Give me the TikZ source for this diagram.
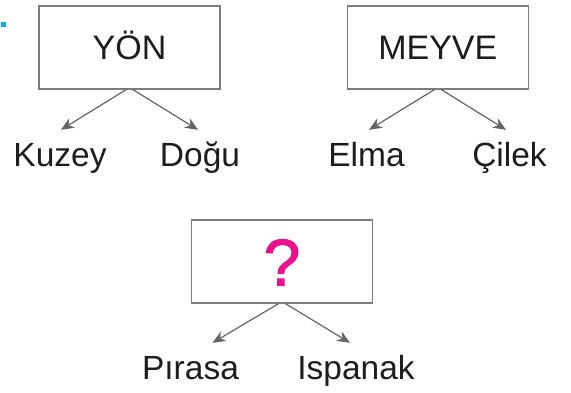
\documentclass[tikz,border=0pt]{standalone}
\usepackage{fontspec}
\setmainfont{Liberation Sans}
\newfontfamily\questfont[FakeBold=1.6]{Liberation Sans}
\usepackage{tikz}
\usetikzlibrary{positioning,arrows.meta}
\definecolor{BoxGray}{RGB}{125,125,125}
\definecolor{ArrowGray}{RGB}{100,100,100}
\definecolor{InkBlack}{RGB}{30,28,28}
\definecolor{QuestPink}{RGB}{234,18,140}
\definecolor{DotBlue}{RGB}{0,170,236}

\begin{document}
\begin{tikzpicture}[
  x=1pt, y=-1pt,
  catbox/.style={
    rectangle, draw=BoxGray, line width=1.3pt, fill=white, text=InkBlack,
    minimum width=181pt, minimum height=83pt,
    text height=24pt, text depth=0pt,
    align=center, font=\fontsize{34}{38}\selectfont
  },
  itemlbl/.style={
    text=InkBlack, anchor=base,
    inner xsep=0pt, inner ysep=12pt,
    text height=24pt, text depth=7pt,
    font=\fontsize{33.5}{37}\selectfont
  },
  dotsq/.style={
    rectangle, fill=DotBlue, inner sep=0pt, minimum size=5pt
  },
  arr/.style={draw=ArrowGray, line width=1.2pt,
    -{Stealth[length=13pt,width=11pt]}}
]
\useasboundingbox (0,0) rectangle (571,392);

%% Marker
\node[dotsq] (mark) at (3.5,24.5) {};

%% Category boxes
\node[catbox] (yon) at (129.5,47.5) {YÖN};
\node[catbox, right=126pt of yon] (meyve) {MEYVE};
\node[catbox, text height=48pt, text=QuestPink,
  font=\questfont\fontsize{66}{70}\selectfont] (soru) at (282,261.5) {?};

%% Items
\node[itemlbl] (kuzey)   at (60,166)    {Kuzey};
\node[itemlbl] (dogu)    at (200,166)   {Doğu};
\node[itemlbl] (elma)    at (366.5,166) {Elma};
\node[itemlbl] (cilek)   at (509.5,166) {Çilek};
\node[itemlbl] (pirasa)  at (190.5,379) {Pırasa};
\node[itemlbl] (ispanak) at (356,379)   {Ispanak};

%% Arrows
\draw[arr] ([xshift=-3.5pt]yon.south) -- ([xshift=1pt]kuzey.north);
\draw[arr] ([xshift=3.5pt]yon.south) -- ([xshift=-2pt]dogu.north);
\draw[arr] ([xshift=-3.5pt]meyve.south) -- ([xshift=2.5pt]elma.north);
\draw[arr] ([xshift=3.5pt]meyve.south) -- ([xshift=-3.5pt]cilek.north);
\draw[arr] ([xshift=-3.5pt]soru.south) -- ([xshift=22pt]pirasa.north);
\draw[arr] ([xshift=3.5pt]soru.south) -- ([xshift=-6pt]ispanak.north);

\end{tikzpicture}
\end{document}
